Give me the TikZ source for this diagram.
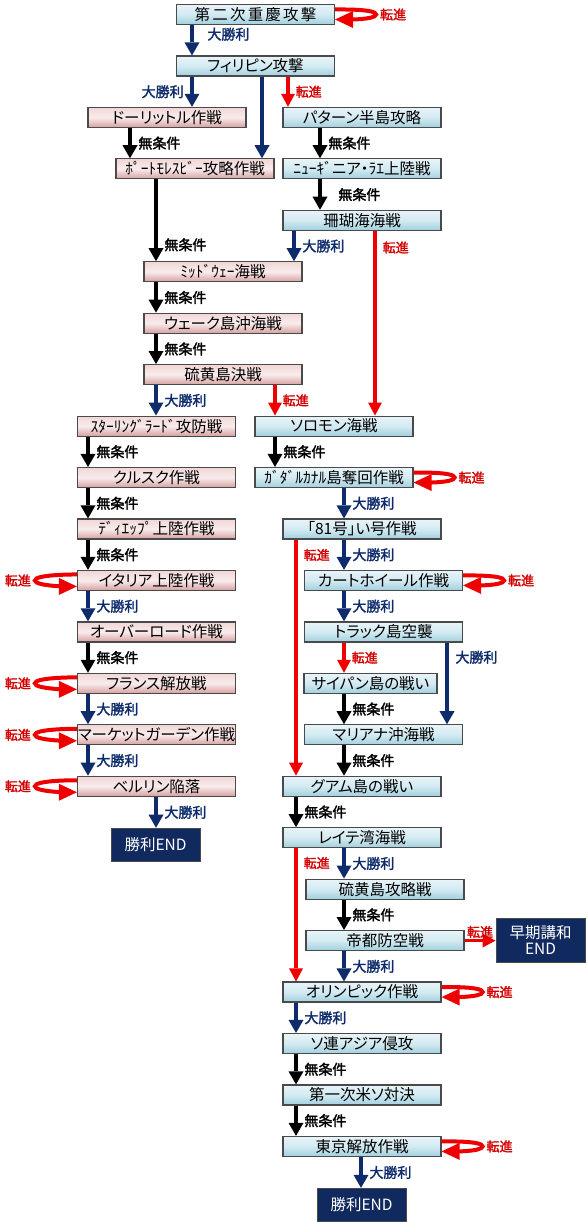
\documentclass[tikz,border=0pt]{standalone}
\usepackage{fontspec}
\setmainfont{Noto Sans CJK JP}[RawFeature=+palt,AutoFakeBold=2]
\usetikzlibrary{arrows.meta}

\definecolor{navy}{HTML}{0E2C6C}
\definecolor{endfill}{HTML}{10295E}
\definecolor{redarrow}{HTML}{EE0000}
\definecolor{redtext}{HTML}{D40000}
\definecolor{boxline}{HTML}{4A4A4A}
\definecolor{bluetop}{HTML}{E8F4F8}
\definecolor{bluemid}{HTML}{D3EAF2}
\definecolor{bluebot}{HTML}{A1D0DE}
\definecolor{pinktop}{HTML}{F1D6D6}
\definecolor{pinkmid}{HTML}{F9ECEC}
\definecolor{pinkbot}{HTML}{D6A0A0}

\newcommand\boxfont{\fontsize{15.5}{16}\selectfont}
\newcommand\lblfont{\fontsize{14}{15}\selectfont\bfseries}
\newcommand\retfont{\fontsize{13}{14}\selectfont\bfseries}

\begin{document}
\begin{tikzpicture}[x=1pt,y=1pt,
    stage/.style={draw=boxline, line width=1.2pt, minimum width=158pt, minimum height=20pt, inner sep=0pt, font=\boxfont},
    bluebox/.style={stage, top color=bluetop, bottom color=bluebot, middle color=bluemid},
    pinkbox/.style={stage, top color=pinktop, bottom color=pinkbot, middle color=pinkmid},
    endbox/.style={draw=boxline, line width=1pt, fill=endfill, text=white, minimum width=89pt, minimum height=33pt, inner sep=0pt, font=\boxfont, align=center, anchor=north},
    win/.style={navy, line width=4.8pt, -{Triangle[length=13pt,width=15pt,line width=0pt]}},
    uncond/.style={black, line width=4.8pt, -{Triangle[length=13pt,width=15pt,line width=0pt]}},
    ret/.style={redarrow, line width=3.5pt, -{Triangle[length=13pt,width=14pt,line width=0pt]}},
    retloop/.style={redarrow, line width=4pt, -{Triangle[length=18pt,width=17pt,line width=0pt]}},
    winlbl/.style={text=navy, font=\lblfont, inner xsep=6pt, inner ysep=1pt},
    unclbl/.style={text=black, font=\lblfont, inner xsep=6pt, inner ysep=1pt},
    retlbl/.style={text=redtext, font=\retfont, inner xsep=6pt, inner ysep=1pt}]

    % Page
    \fill[white] (0,0) rectangle (586,-1222);
    \useasboundingbox (0,0) rectangle (586,-1222);

    % Lanes for the arrows
    \coordinate (colStal) at (88,0);
    \coordinate (colDoo) at (130,0);
    \coordinate (colMid) at (156,0);
    \coordinate (colTop) at (192,0);
    \coordinate (colMor) at (262,0);
    \coordinate (colSolo) at (275,0);
    \coordinate (colBat) at (288,0);
    \coordinate (colCor) at (294,0);
    \coordinate (colR) at (296,0);
    \coordinate (colNg) at (320,0);
    \coordinate (colIn) at (344,0);
    \coordinate (colWin) at (361,0);
    \coordinate (colRet) at (375,0);
    \coordinate (colTruk) at (447,0);

    % Opening stages
    \node[bluebox,font=\boxfont\addfontfeature{LetterSpace=14}] (chong) at (255.5,-14.5) {第二次重慶攻撃};
    \node[bluebox] (phil) at (255.5,-66) {フィリピン攻撃};
    \node[pinkbox] (doo) at (167,-117.4) {ドーリットル作戦};
    \node[bluebox] (bataan) at (362,-117.4) {パターン半島攻略};
    \node[pinkbox] (moresby) at (195,-168.85) {ﾎﾟｰﾄﾓﾚｽﾋﾞｰ攻略作戦};
    \node[bluebox] (newg) at (362,-168.85) {ﾆｭｰｷﾞニア・ﾗｴ上陸戦};
    \node[bluebox] (coral) at (362,-220.3) {珊瑚海海戦};
    \node[pinkbox] (midway) at (223,-271.75) {ﾐｯﾄﾞｳｪｰ海戦};
    \node[pinkbox] (wake) at (223,-323.2) {ウェーク島沖海戦};
    \node[pinkbox] (iwoA) at (223,-374.65) {硫黄島決戦};

    % Left column
    \node[pinkbox] (stal) at (156.5,-426.1) {ｽﾀｰﾘﾝｸﾞﾗｰﾄﾞ攻防戦};
    \node[pinkbox] (kursk) at (156.5,-477.55) {クルスク作戦};
    \node[pinkbox] (diep) at (156.5,-529) {ﾃﾞｨｴｯﾌﾟ上陸作戦};
    \node[pinkbox] (ital) at (156.5,-580.45) {イタリア上陸作戦};
    \node[pinkbox] (over) at (156.5,-631.9) {オーバーロード作戦};
    \node[pinkbox] (fran) at (156.5,-683.35) {フランス解放戦};
    \node[pinkbox] (mark) at (156.5,-734.8) {マーケットガーデン作戦};
    \node[pinkbox] (berl) at (156.5,-786.25) {ベルリン陥落};
    \node[endbox] (winL) at (155.5,-827.7) {勝利END};

    % Right column
    \node[bluebox] (solo) at (334,-426.1) {ソロモン海戦};
    \node[bluebox] (guad) at (334,-477.55) {ｶﾞﾀﾞﾙｶﾅﾙ島奪回作戦};
    \node[bluebox] (op81) at (362,-529) {「81号」い号作戦};
    \node[bluebox] (cart) at (383.5,-580.45) {カートホイール作戦};
    \node[bluebox] (truk) at (383.5,-631.9) {トラック島空襲};
    \node[bluebox,minimum width=133pt] (saip) at (370.5,-683.35) {サイパン島の戦い};
    \node[bluebox] (mari) at (383.5,-734.8) {マリアナ沖海戦};
    \node[bluebox] (guam) at (362,-786.25) {グアム島の戦い};
    \node[bluebox] (leyte) at (362,-837.7) {レイテ湾海戦};
    \node[bluebox] (iwoB) at (385,-889.15) {硫黄島攻略戦};
    \node[bluebox] (teito) at (385,-940.6) {帝都防空戦};
    \node[endbox,anchor=center,minimum height=44pt] (early) at (540.5,-940) {早期講和\\END};
    \node[bluebox] (olym) at (362,-992.05) {オリンピック作戦};
    \node[bluebox] (ussr) at (362,-1043.5) {ソ連アジア侵攻};
    \node[bluebox] (first) at (362,-1094.95) {第一次米ソ対決};
    \node[bluebox] (tokyo) at (362,-1146.4) {東京解放作戦};
    \node[endbox] (winR) at (361.5,-1187.85) {勝利END};

    % Top arrows
    \draw[win] (chong.south -| colTop) -- (phil.north -| colTop) node[pos=0.3,right,winlbl,xshift=7pt] {大勝利};
    \draw[win] (phil.south -| colTop) -- (doo.north -| colTop) node[midway,left,winlbl] {大勝利};
    \draw[win] (phil.south -| colMor) -- (moresby.north -| colMor);
    \draw[ret] (phil.south -| colBat) -- (bataan.north -| colBat) node[midway,right,retlbl] {転進};
    \draw[uncond] (doo.south -| colDoo) -- (moresby.north -| colDoo) node[midway,right,unclbl] {無条件};
    \draw[uncond] (bataan.south -| colNg) -- (newg.north -| colNg) node[midway,right,unclbl] {無条件};
    \draw[uncond] (newg.south -| colNg) -- (coral.north -| colNg) node[midway,right,unclbl,xshift=10pt] {無条件};
    \draw[uncond] (moresby.south -| colMid) -- (midway.north -| colMid) node[pos=0.8,right,unclbl] {無条件};
    \draw[win] (coral.south -| colCor) -- (midway.north -| colCor) node[midway,right,winlbl] {大勝利};
    \draw[ret] (coral.south -| colRet) -- (solo.north -| colRet) node[pos=0.09,right,retlbl] {転進};
    \draw[uncond] (midway.south -| colMid) -- (wake.north -| colMid) node[midway,right,unclbl] {無条件};
    \draw[uncond] (wake.south -| colMid) -- (iwoA.north -| colMid) node[midway,right,unclbl] {無条件};
    \draw[win] (iwoA.south -| colMid) -- (stal.north -| colMid) node[midway,right,winlbl] {大勝利};
    \draw[ret] (iwoA.south -| colSolo) -- (solo.north -| colSolo) node[midway,right,retlbl] {転進};

    % Left column arrows
    \draw[uncond] (stal.south -| colStal) -- (kursk.north -| colStal) node[midway,right,unclbl] {無条件};
    \draw[uncond] (kursk.south -| colStal) -- (diep.north -| colStal) node[midway,right,unclbl] {無条件};
    \draw[uncond] (diep.south -| colStal) -- (ital.north -| colStal) node[midway,right,unclbl] {無条件};
    \draw[win] (ital.south -| colStal) -- (over.north -| colStal) node[midway,right,winlbl] {大勝利};
    \draw[uncond] (over.south -| colStal) -- (fran.north -| colStal) node[midway,right,unclbl] {無条件};
    \draw[win] (fran.south -| colStal) -- (mark.north -| colStal) node[midway,right,winlbl] {大勝利};
    \draw[win] (mark.south -| colStal) -- (berl.north -| colStal) node[midway,right,winlbl] {大勝利};
    \draw[win] (berl.south -| colMid) -- (winL.north -| colMid) node[midway,right,winlbl] {大勝利};

    % Right column arrows
    \draw[uncond] (solo.south -| colSolo) -- (guad.north -| colSolo) node[midway,right,unclbl] {無条件};
    \draw[win] (guad.south -| colIn) -- (op81.north -| colIn) node[midway,right,winlbl] {大勝利};
    \draw[ret] (op81.south -| colR) -- (guam.north -| colR) node[pos=0.065,right,retlbl] {転進};
    \draw[win] (op81.south -| colIn) -- (cart.north -| colIn) node[midway,right,winlbl] {大勝利};
    \draw[win] (cart.south -| colIn) -- (truk.north -| colIn) node[midway,right,winlbl] {大勝利};
    \draw[ret] (truk.south -| colIn) -- (saip.north -| colIn) node[midway,right,retlbl] {転進};
    \draw[win] (truk.south -| colTruk) -- (mari.north -| colTruk) node[pos=0.18,right,winlbl] {大勝利};
    \draw[uncond] (saip.south -| colIn) -- (mari.north -| colIn) node[midway,right,unclbl] {無条件};
    \draw[uncond] (mari.south -| colIn) -- (guam.north -| colIn) node[midway,right,unclbl] {無条件};
    \draw[uncond] (guam.south -| colR) -- (leyte.north -| colR) node[midway,right,unclbl] {無条件};
    \draw[win] (leyte.south -| colIn) -- (iwoB.north -| colIn) node[midway,right,winlbl] {大勝利};
    \draw[ret] (leyte.south -| colR) -- (olym.north -| colR) node[pos=0.11,right,retlbl] {転進};
    \draw[uncond] (iwoB.south -| colIn) -- (teito.north -| colIn) node[midway,right,unclbl] {無条件};
    \draw[ret] (teito.east) -- (teito.east -| early.west) node[midway,above,retlbl] {転進};
    \draw[win] (teito.south -| colIn) -- (olym.north -| colIn) node[midway,right,winlbl] {大勝利};
    \draw[win] (olym.south -| colR) -- (ussr.north -| colR) node[midway,right,winlbl] {大勝利};
    \draw[uncond] (ussr.south -| colR) -- (first.north -| colR) node[midway,right,unclbl] {無条件};
    \draw[uncond] (first.south -| colR) -- (tokyo.north -| colR) node[midway,right,unclbl] {無条件};
    \draw[win] (tokyo.south -| colWin) -- (winR.north -| colWin) node[midway,right,winlbl] {大勝利};

    % Loops back into the same stage
    \foreach \n in {chong,guad,cart,olym,tokyo}
        \draw[retloop] ([yshift=5pt]\n.east) to[out=0,in=90,looseness=0.35] ++(41pt,-5pt) node[right,retlbl,inner xsep=2pt] {転進}
            to[out=-90,in=0,looseness=0.35] ([yshift=-5pt]\n.east);
    \foreach \n in {ital,fran,mark,berl}
        \draw[retloop] ([yshift=6pt]\n.west) to[out=180,in=90,looseness=0.35] ++(-42pt,-6pt) node[left,retlbl,inner xsep=2pt] {転進}
            to[out=-90,in=180,looseness=0.35] ([yshift=-6pt]\n.west);
\end{tikzpicture}
\end{document}
